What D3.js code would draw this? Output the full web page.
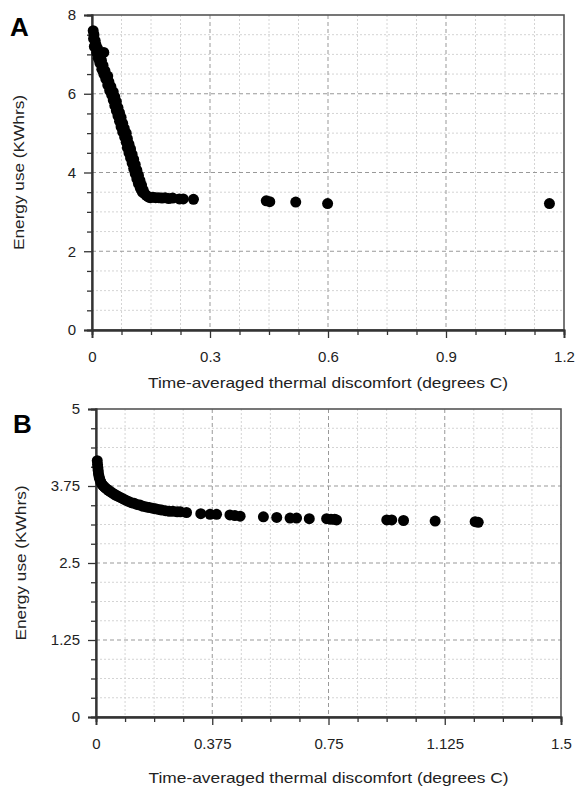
<!DOCTYPE html>
<html>
<head>
<meta charset="utf-8">
<script src="https://cdn.jsdelivr.net/npm/d3@7"></script>
<style>
  html, body { margin: 0; padding: 0; background: #fff; }
  svg { display: block; font-family: Arial, "Liberation Sans", sans-serif; }
</style>
</head>
<body>
<div id="chart"></div>
<script>
// Panel A: energy use vs thermal discomfort
const pointsA = [
  [0.003, 7.6], [0.005, 7.5], [0.004, 7.4], [0.008, 7.35], [0.010, 7.25], [0.006, 7.2],
  [0.014, 7.15], [0.012, 7.05], [0.018, 7.0], [0.030, 7.05], [0.022, 6.95], [0.016, 6.9],
  [0.024, 6.85], [0.020, 6.78], [0.028, 6.72], [0.025, 6.62], [0.033, 6.58], [0.030, 6.5],
  [0.040, 6.45], [0.035, 6.38], [0.043, 6.3], [0.040, 6.22], [0.048, 6.18], [0.045, 6.08],
  [0.054, 6.05], [0.050, 5.97], [0.058, 5.92], [0.054, 5.84], [0.062, 5.8], [0.058, 5.7],
  [0.066, 5.65], [0.062, 5.57], [0.070, 5.52], [0.066, 5.44], [0.074, 5.4], [0.070, 5.3],
  [0.078, 5.25], [0.074, 5.16], [0.082, 5.12], [0.078, 5.03], [0.087, 5.0], [0.083, 4.9],
  [0.090, 4.86], [0.087, 4.77], [0.094, 4.72], [0.090, 4.63], [0.098, 4.6], [0.094, 4.5],
  [0.102, 4.46], [0.098, 4.37], [0.106, 4.33], [0.102, 4.24], [0.110, 4.2], [0.106, 4.1],
  [0.114, 4.06], [0.110, 3.97], [0.118, 3.93], [0.114, 3.84], [0.122, 3.8], [0.118, 3.72],
  [0.126, 3.68], [0.123, 3.6], [0.130, 3.56], [0.128, 3.5], [0.134, 3.46], [0.138, 3.42],
  [0.143, 3.38], [0.148, 3.36],
  [0.155, 3.37], [0.162, 3.36], [0.170, 3.36], [0.178, 3.35], [0.186, 3.36], [0.195, 3.34],
  [0.205, 3.35], [0.222, 3.33], [0.232, 3.33], [0.258, 3.32],
  [0.443, 3.28], [0.452, 3.26], [0.518, 3.25], [0.599, 3.21], [1.163, 3.21]
];

// Panel B
const pointsB = [
  [0.004, 4.16], [0.005, 4.10], [0.006, 4.05], [0.007, 4.00], [0.008, 3.95], [0.010, 3.90],
  [0.012, 3.86], [0.015, 3.82], [0.018, 3.79], [0.022, 3.76], [0.026, 3.74], [0.030, 3.72],
  [0.035, 3.70], [0.040, 3.68], [0.046, 3.66], [0.052, 3.64], [0.058, 3.62], [0.065, 3.60],
  [0.072, 3.58], [0.080, 3.56], [0.088, 3.54], [0.096, 3.52], [0.105, 3.50], [0.114, 3.48],
  [0.123, 3.47], [0.132, 3.45], [0.142, 3.44], [0.152, 3.42], [0.162, 3.41], [0.172, 3.40],
  [0.182, 3.39], [0.192, 3.38], [0.202, 3.37], [0.212, 3.36], [0.224, 3.35], [0.236, 3.34],
  [0.248, 3.34], [0.262, 3.33], [0.272, 3.33], [0.292, 3.32],
  [0.338, 3.30], [0.368, 3.29], [0.389, 3.29], [0.432, 3.28], [0.448, 3.27], [0.465, 3.26],
  [0.540, 3.25], [0.583, 3.24], [0.626, 3.23], [0.647, 3.23], [0.688, 3.22], [0.744, 3.22],
  [0.758, 3.21], [0.770, 3.21], [0.776, 3.20], [0.938, 3.20], [0.954, 3.20], [0.992, 3.19],
  [1.094, 3.18], [1.223, 3.17], [1.233, 3.16]
];

const ticksAX = [0, 0.3, 0.6, 0.9, 1.2];
const ticksAY = [0, 2, 4, 6, 8];
const ticksBX = [0, 0.375, 0.75, 1.125, 1.5];
const ticksBY = [0, 1.25, 2.5, 3.75, 5];

const xTitle = 'Time-averaged thermal discomfort (degrees C)';
const yTitle = 'Energy use (KWhrs)';

const width = 576, height = 792;
const FONT = 'Arial, "Liberation Sans", sans-serif';

const svg = d3.select('#chart')
  .append('svg')
  .attr('width', width)
  .attr('height', height);

// split each major step into 4 for the minor ticks/grid
function minorTicks(ticks) {
  const out = [];
  for (let i = 0; i < ticks.length - 1; i++) {
    const step = (ticks[i + 1] - ticks[i]) / 4;
    for (let k = 1; k < 4; k++) out.push(ticks[i] + step * k);
  }
  return out;
}

function drawPanel(opts) {
  const { points, xTicks, yTicks, left, right, top, bottom, letter, letterX, letterY,
          titleY, yTitleX } = opts;

  const x = d3.scaleLinear()
    .domain([xTicks[0], xTicks[xTicks.length - 1]])
    .range([left, right]);
  const y = d3.scaleLinear()
    .domain([yTicks[0], yTicks[yTicks.length - 1]])
    .range([bottom, top]);

  const g = svg.append('g');
  const xMinor = minorTicks(xTicks);
  const yMinor = minorTicks(yTicks);

  // minor grid
  g.append('g').selectAll('line')
    .data(xMinor).enter().append('line')
    .attr('x1', d => x(d)).attr('x2', d => x(d))
    .attr('y1', top).attr('y2', bottom)
    .attr('stroke', '#d4d4d4').attr('stroke-width', 1)
    .attr('stroke-dasharray', '2,2');
  g.append('g').selectAll('line')
    .data(yMinor).enter().append('line')
    .attr('x1', left).attr('x2', right)
    .attr('y1', d => y(d)).attr('y2', d => y(d))
    .attr('stroke', '#d4d4d4').attr('stroke-width', 1)
    .attr('stroke-dasharray', '2,2');

  // major grid, dashed
  g.append('g').selectAll('line')
    .data(xTicks.slice(1, -1)).enter().append('line')
    .attr('x1', d => x(d)).attr('x2', d => x(d))
    .attr('y1', top).attr('y2', bottom)
    .attr('stroke', '#999').attr('stroke-width', 1)
    .attr('stroke-dasharray', '4,3');
  g.append('g').selectAll('line')
    .data(yTicks.slice(1, -1)).enter().append('line')
    .attr('x1', left).attr('x2', right)
    .attr('y1', d => y(d)).attr('y2', d => y(d))
    .attr('stroke', '#999').attr('stroke-width', 1)
    .attr('stroke-dasharray', '4,3');

  // frame
  g.append('rect')
    .attr('x', left).attr('y', top)
    .attr('width', right - left).attr('height', bottom - top)
    .attr('fill', 'none').attr('stroke', '#555').attr('stroke-width', 1.6);

  // axes: minor ticks first, then majors with labels
  const fmt = d => String(+d.toFixed(3));
  const xAxisMinor = d3.axisBottom(x).tickValues(xMinor).tickSize(5).tickFormat('');
  const yAxisMinor = d3.axisLeft(y).tickValues(yMinor).tickSize(5).tickFormat('');
  const xAxis = d3.axisBottom(x).tickValues(xTicks).tickSize(8).tickPadding(13).tickFormat(fmt);
  const yAxis = d3.axisLeft(y).tickValues(yTicks).tickSize(8).tickPadding(8).tickFormat(fmt);

  const style = s => {
    s.select('.domain').attr('stroke', '#333').attr('stroke-width', 1.8);
    s.selectAll('.tick line').attr('stroke', '#333').attr('stroke-width', 1.3);
    s.selectAll('.tick text').attr('fill', '#222').attr('font-size', 15).attr('font-family', FONT);
  };

  [xAxisMinor, xAxis].forEach(ax => {
    g.append('g').attr('transform', `translate(0,${bottom})`).call(ax).call(style);
  });
  [yAxisMinor, yAxis].forEach(ax => {
    g.append('g').attr('transform', `translate(${left},0)`).call(ax).call(style);
  });

  // points
  g.append('g').selectAll('circle')
    .data(points).enter().append('circle')
    .attr('cx', d => x(d[0]))
    .attr('cy', d => y(d[1]))
    .attr('r', 5.5)
    .attr('fill', '#000');

  // titles
  g.append('text')
    .attr('x', (left + right) / 2).attr('y', titleY)
    .attr('text-anchor', 'middle')
    .attr('font-size', 15).attr('fill', '#222')
    .attr('textLength', 360).attr('lengthAdjust', 'spacingAndGlyphs')
    .text(xTitle);

  g.append('text')
    .attr('transform', `translate(${yTitleX},${(top + bottom) / 2}) rotate(-90)`)
    .attr('text-anchor', 'middle')
    .attr('font-size', 15).attr('fill', '#222')
    .attr('textLength', 155).attr('lengthAdjust', 'spacingAndGlyphs')
    .text(yTitle);

  g.append('text')
    .attr('x', letterX).attr('y', letterY)
    .attr('font-size', 26).attr('font-weight', 'bold').attr('fill', '#000')
    .text(letter);
}

drawPanel({
  points: pointsA, xTicks: ticksAX, yTicks: ticksAY,
  left: 92, right: 564, top: 15, bottom: 330,
  letter: 'A', letterX: 10, letterY: 36, titleY: 388, yTitleX: 24
});

drawPanel({
  points: pointsB, xTicks: ticksBX, yTicks: ticksBY,
  left: 96, right: 561, top: 409, bottom: 717,
  letter: 'B', letterX: 13, letterY: 433, titleY: 783, yTitleX: 26
});
</script>
</body>
</html>
